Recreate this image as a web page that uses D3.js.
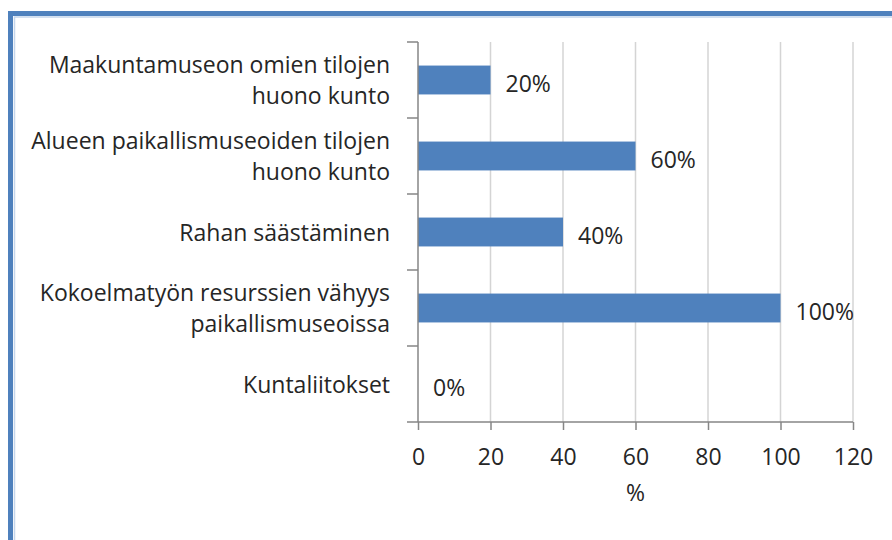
<!DOCTYPE html>
<html>
<head>
<meta charset="utf-8">
<script src="https://cdn.jsdelivr.net/npm/d3@7"></script>
<style>
  body { margin: 0; background: #fff; }
  svg text { font-family: "Open Sans", "Noto Sans", sans-serif; fill: #262626; }
</style>
</head>
<body>
<div id="chart"></div>
<script>
const categories = [
    ['Maakuntamuseon omien tilojen', 'huono kunto'],
    ['Alueen paikallismuseoiden tilojen', 'huono kunto'],
    ['Rahan säästäminen'],
    ['Kokoelmatyön resurssien vähyys', 'paikallismuseoissa'],
    ['Kuntaliitokset']
];
const values = [20, 60, 40, 100, 0];
const valueLabels = ['20%', '60%', '40%', '100%', '0%'];
const xTicks = [0, 20, 40, 60, 80, 100, 120];
const xTitle = '%';

const width = 892, height = 540;
const margin = { top: 42, left: 418, right: 39, bottom: 118 };
const fontSize = '23px';

const svg = d3.select('#chart')
    .append('svg')
    .attr('width', width)
    .attr('height', height);

// frame edges (only left and top are visible)
svg.append('rect')
    .attr('x', 10.5).attr('y', 13.5)
    .attr('width', width + 20).attr('height', height + 20)
    .attr('fill', 'none')
    .attr('stroke', '#4f81bd')
    .attr('stroke-width', 5);
svg.append('path')
    .attr('d', `M14.5,${height}V17H${width}`)
    .attr('fill', 'none')
    .attr('stroke', '#c5d6ec')
    .attr('stroke-width', 1.5);

const x = d3.scaleLinear()
    .domain([0, 120])
    .range([margin.left, width - margin.right]);

const y = d3.scaleBand()
    .domain(d3.range(categories.length))
    .range([margin.top, height - margin.bottom])
    .paddingInner(0.62)
    .paddingOuter(0.31);

const yTicks = d3.scaleBand()
    .domain(d3.range(categories.length))
    .range([margin.top, height - margin.bottom]);

// gridlines
svg.append('g')
    .selectAll('line')
    .data(xTicks.slice(1))
    .enter()
    .append('line')
    .attr('x1', d => x(d)).attr('x2', d => x(d))
    .attr('y1', margin.top).attr('y2', height - margin.bottom)
    .attr('stroke', '#d4d4d4')
    .attr('stroke-width', 1.5);

// bars
svg.append('g')
    .selectAll('rect')
    .data(values)
    .enter()
    .append('rect')
    .attr('x', x(0))
    .attr('y', (d, i) => y(i))
    .attr('width', d => x(d) - x(0))
    .attr('height', y.bandwidth())
    .attr('fill', '#4f81bd');

// value labels
svg.append('g')
    .selectAll('text')
    .data(values)
    .enter()
    .append('text')
    .attr('x', d => x(d) + 15)
    .attr('y', (d, i) => y(i) + y.bandwidth() / 2)
    .attr('dy', '0.5em')
    .style('font-size', fontSize)
    .text((d, i) => valueLabels[i]);

// x axis
const xAxis = svg.append('g')
    .attr('transform', `translate(0,${height - margin.bottom})`)
    .call(d3.axisBottom(x).tickValues(xTicks).tickSize(8).tickPadding(19));
xAxis.select('.domain').attr('stroke', '#868686').attr('stroke-width', 1.5)
    .attr('d', `M${x(0) - 11},0H${x(120)}`);
xAxis.selectAll('.tick line').attr('stroke', '#868686').attr('stroke-width', 1.5);
xAxis.selectAll('.tick text')
    .style('font-family', '"Open Sans", sans-serif')
    .style('font-size', fontSize)
    .attr('fill', '#262626');

svg.append('text')
    .attr('x', x(60))
    .attr('y', 501)
    .attr('text-anchor', 'middle')
    .style('font-size', fontSize)
    .text(xTitle);

// y axis line with category ticks
const yAxis = svg.append('g');
yAxis.append('line')
    .attr('x1', x(0)).attr('x2', x(0))
    .attr('y1', margin.top).attr('y2', height - margin.bottom)
    .attr('stroke', '#868686').attr('stroke-width', 1.5);
yAxis.selectAll('.ytick')
    .data(d3.range(categories.length))
    .enter()
    .append('line')
    .attr('x1', x(0) - 11).attr('x2', x(0))
    .attr('y1', d => yTicks(d)).attr('y2', d => yTicks(d))
    .attr('stroke', '#868686').attr('stroke-width', 1.5);

// category labels
const lineGap = 31;
svg.append('g')
    .selectAll('text')
    .data(categories)
    .enter()
    .append('text')
    .attr('text-anchor', 'end')
    .attr('x', 390)
    .attr('y', (d, i) => yTicks(i) + yTicks.bandwidth() / 2 - (d.length - 1) * lineGap / 2)
    .style('font-size', fontSize)
    .each(function(d) {
        d3.select(this).selectAll('tspan')
            .data(d)
            .enter()
            .append('tspan')
            .attr('x', 390)
            .attr('dy', (t, j) => j === 0 ? '0.37em' : lineGap)
            .text(t => t);
    });
</script>
</body>
</html>
